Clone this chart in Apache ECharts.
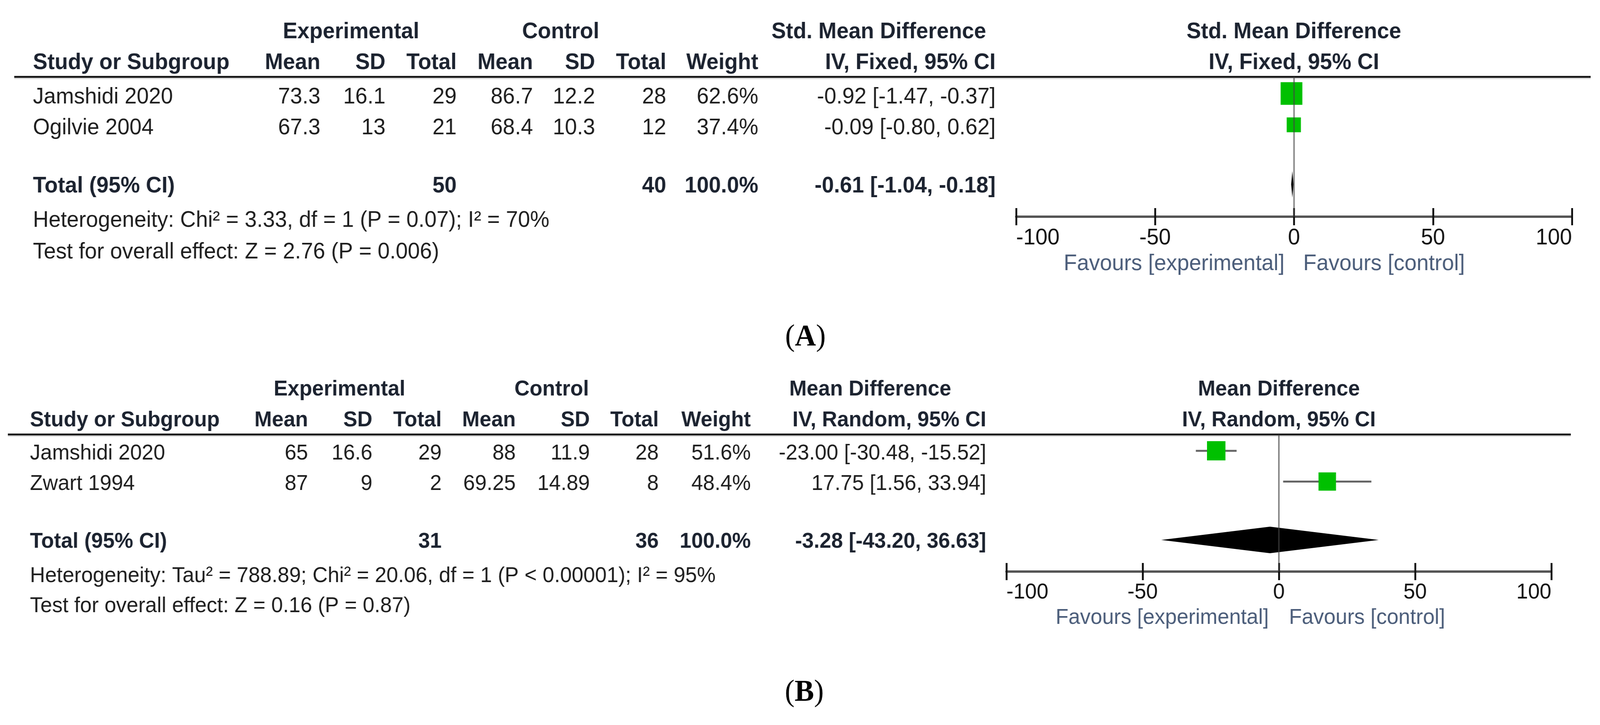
<!DOCTYPE html>
<html>
<head>
<meta charset="utf-8">
<script src="https://cdn.jsdelivr.net/npm/echarts@6/dist/echarts.min.js"></script>
<style>
  html, body { margin: 0; padding: 0; background: #fff; overflow: hidden; }
  #main { width: 4275px; height: 1857px; transform-origin: 0 0; }
</style>
</head>
<body>
<div id="main"></div>
<script>
// ---- panel A : Std. Mean Difference, IV fixed ----
var studiesA = ['Jamshidi 2020', 'Ogilvie 2004'];
var expMeanA = [73.3, 67.3];
var expSdA = [16.1, 13];
var expNA = [29, 21];
var ctlMeanA = [86.7, 68.4];
var ctlSdA = [12.2, 10.3];
var ctlNA = [28, 12];
var weightA = [62.6, 37.4];
var estA = [-0.92, -0.09];
var loA = [-1.47, -0.80];
var hiA = [-0.37, 0.62];
var totalNA = [50, 40];
var totalEffA = [-0.61, -1.04, -0.18];
var hetA = 'Heterogeneity: Chi² = 3.33, df = 1 (P = 0.07); I² = 70%';
var testA = 'Test for overall effect: Z = 2.76 (P = 0.006)';

// ---- panel B : Mean Difference, IV random ----
var studiesB = ['Jamshidi 2020', 'Zwart 1994'];
var expMeanB = [65, 87];
var expSdB = [16.6, 9];
var expNB = [29, 2];
var ctlMeanB = [88, 69.25];
var ctlSdB = [11.9, 14.89];
var ctlNB = [28, 8];
var weightB = [51.6, 48.4];
var estB = [-23.00, 17.75];
var loB = [-30.48, 1.56];
var hiB = [-15.52, 33.94];
var totalNB = [31, 36];
var totalEffB = [-3.28, -43.20, 36.63];
var hetB = 'Heterogeneity: Tau² = 788.89; Chi² = 20.06, df = 1 (P < 0.00001); I² = 95%';
var testB = 'Test for overall effect: Z = 0.16 (P = 0.87)';

var axisMin = -100, axisMax = 100, axisStep = 50;

var FONT = '"Liberation Sans", Arial, sans-serif';
var SERIF = '"Liberation Serif", "Times New Roman", serif';
var HEAD = '#1c2330';
var Y_MIN = 0.47, Y_MAX = 4.93, TOTAL_ROW = 3.9;

// the window may be narrower than the figure: squeeze the whole canvas to fit
var el = document.getElementById('main');
var sx = Math.min(1, window.innerWidth / 4275), sy = Math.min(1, window.innerHeight / 1857);
el.style.transform = 'scale(' + sx + ',' + sy + ')';

function eff(e, l, h) {
    return e.toFixed(2) + ' [' + l.toFixed(2) + ', ' + h.toFixed(2) + ']';
}

function txt(x, y, s, size, opt) {
    opt = opt || {};
    return {
        type: 'text', x: x, y: y, silent: true,
        style: {
            text: s,
            fill: opt.color || '#1e1e1e',
            font: (opt.bold ? 'bold ' : '') + size + 'px ' + FONT,
            textAlign: opt.align || 'left',
            textVerticalAlign: 'middle'
        }
    };
}

// table text + rules for one panel
function panelGraphics(d, L) {
    var g = [];
    var s = L.size;
    var bold = function (al) { return {bold: true, color: HEAD, align: al || 'left'}; };
    g.push(txt(L.expC, L.yH1, 'Experimental', s, bold('center')));
    g.push(txt(L.ctlC, L.yH1, 'Control', s, bold('center')));
    g.push(txt(L.effC, L.yH1, d.effTitle, s, bold('center')));
    g.push(txt(L.left, L.yH2, 'Study or Subgroup', s, bold()));
    var heads = ['Mean', 'SD', 'Total', 'Mean', 'SD', 'Total', 'Weight', d.method];
    heads.forEach(function (h, i) {
        g.push(txt(L.cols[i], L.yH2, h, s, bold('right')));
    });
    // plot headings
    g.push(txt(L.plotC, L.yH1, d.effTitle, s, bold('center')));
    g.push(txt(L.plotC, L.yH2, d.method, s, bold('center')));
    // header rule
    g.push({type: 'line', silent: true, shape: {x1: L.lineX0, y1: L.lineY, x2: L.lineX1, y2: L.lineY},
            style: {stroke: '#111', lineWidth: 5}});
    g.push({type: 'line', silent: true, shape: {x1: L.lineX0, y1: L.lineY + 4, x2: L.lineX1, y2: L.lineY + 4},
            style: {stroke: '#d8d8d8', lineWidth: 3}});
    // study rows
    d.studies.forEach(function (st, i) {
        var y = L.rows[i];
        g.push(txt(L.left, y, st, s));
        var cells = [d.expMean[i], d.expSd[i], d.expN[i], d.ctlMean[i], d.ctlSd[i], d.ctlN[i],
                     d.weight[i].toFixed(1) + '%', eff(d.est[i], d.lo[i], d.hi[i])];
        cells.forEach(function (c, j) {
            g.push(txt(L.cols[j], y, String(c), s, {align: 'right'}));
        });
    });
    // total row
    g.push(txt(L.left, L.yTot, 'Total (95% CI)', s, bold()));
    g.push(txt(L.cols[2], L.yTot, String(d.totalN[0]), s, bold('right')));
    g.push(txt(L.cols[5], L.yTot, String(d.totalN[1]), s, bold('right')));
    g.push(txt(L.cols[6], L.yTot, '100.0%', s, bold('right')));
    g.push(txt(L.cols[7], L.yTot, eff(d.totalEff[0], d.totalEff[1], d.totalEff[2]), s, bold('right')));
    g.push(txt(L.left, L.yHet, d.het, s));
    g.push(txt(L.left, L.yTest, d.test, s));
    // favours
    g.push(txt(L.plotC - L.favGap, L.favY, 'Favours [experimental]', s, {color: '#4b5d7a', align: 'right'}));
    g.push(txt(L.plotC + L.favGap, L.favY, 'Favours [control]', s, {color: '#4b5d7a', align: 'left'}));
    // panel letter
    g.push({
        type: 'text', x: L.labelX, y: L.labelY, silent: true,
        style: {
            text: '({b|' + L.letter + '})',
            rich: {b: {fontWeight: 'bold', fontSize: 78, fontFamily: SERIF, fill: '#000'}},
            font: '78px ' + SERIF, fill: '#000',
            textAlign: 'center', textVerticalAlign: 'middle'
        }
    });
    return g;
}

var dataA = {studies: studiesA, expMean: expMeanA, expSd: expSdA, expN: expNA, ctlMean: ctlMeanA,
             ctlSd: ctlSdA, ctlN: ctlNA, weight: weightA, est: estA, lo: loA, hi: hiA,
             totalN: totalNA, totalEff: totalEffA, het: hetA, test: testA,
             effTitle: 'Std. Mean Difference', method: 'IV, Fixed, 95% CI'};
var dataB = {studies: studiesB, expMean: expMeanB, expSd: expSdB, expN: expNB, ctlMean: ctlMeanB,
             ctlSd: ctlSdB, ctlN: ctlNB, weight: weightB, est: estB, lo: loB, hi: hiB,
             totalN: totalNB, totalEff: totalEffB, het: hetB, test: testB,
             effTitle: 'Mean Difference', method: 'IV, Random, 95% CI'};

var layA = {left: 88, cols: [856, 1030, 1220, 1424, 1590, 1780, 2026, 2660], size: 58,
            yH1: 82, yH2: 161, rows: [249, 328], yTot: 477, yHet: 565, yTest: 646,
            expC: 938, ctlC: 1498, effC: 2348, lineY: 197, lineX0: 38, lineX1: 4250,
            plotC: 3457, favY: 676, favGap: 25, labelX: 2152, labelY: 865, letter: 'A'};
var layB = {left: 80, cols: [823, 995, 1180, 1378, 1576, 1760, 2006, 2635], size: 56,
            yH1: 998, yH2: 1077, rows: [1162, 1240], yTot: 1388, yHet: 1476, yTest: 1553,
            expC: 907, ctlC: 1474, effC: 2325, lineY: 1113, lineX0: 21, lineX1: 4197,
            plotC: 3417, favY: 1583, favGap: 27, labelX: 2149, labelY: 1775, letter: 'B'};

// two stacked x axes per grid: one with outward ticks + labels, one with inward ticks
function xAxes(grid, size) {
    return [{
        type: 'value', gridIndex: grid, min: axisMin, max: axisMax, interval: axisStep, position: 'bottom',
        axisLine: {show: true, lineStyle: {color: '#555', width: 6}},
        axisTick: {show: true, length: 22, lineStyle: {color: '#111', width: 5}},
        splitLine: {show: false},
        axisLabel: {show: true, fontSize: size, fontFamily: FONT, color: '#111', margin: 26,
                    showMinLabel: true, showMaxLabel: true, alignMinLabel: 'left', alignMaxLabel: 'right'}
    }, {
        type: 'value', gridIndex: grid, min: axisMin, max: axisMax, interval: axisStep, position: 'bottom',
        offset: 0,
        axisLine: {show: false},
        axisTick: {show: true, inside: true, length: 22, lineStyle: {color: '#111', width: 5}},
        splitLine: {show: false},
        axisLabel: {show: false}
    }];
}

function yAxis(grid) {
    return {type: 'value', gridIndex: grid, min: Y_MIN, max: Y_MAX, inverse: true, show: false};
}

function panelSeries(d, xi, yi) {
    var ci = d.studies.map(function (s, i) { return [d.lo[i], d.hi[i], i + 1]; });
    var pts = d.studies.map(function (s, i) { return [d.est[i], i + 1, d.weight[i]]; });
    return [{
        type: 'custom', xAxisIndex: xi, yAxisIndex: yi, z: 2, silent: true,
        data: ci,
        renderItem: function (params, api) {
            var a = api.coord([api.value(0), api.value(2)]);
            var b = api.coord([api.value(1), api.value(2)]);
            return {type: 'line', shape: {x1: a[0], y1: a[1], x2: b[0], y2: b[1]},
                    style: {stroke: '#666', lineWidth: 5}};
        }
    }, {
        type: 'scatter', xAxisIndex: xi, yAxisIndex: yi, z: 3, silent: true,
        symbol: 'rect',
        symbolSize: function (v) { return 8 + 0.8 * v[2]; },
        itemStyle: {color: '#00c000', opacity: 1},
        data: pts
    }, {
        type: 'custom', xAxisIndex: xi, yAxisIndex: yi, z: 3, silent: true,
        data: [[d.totalEff[0], d.totalEff[1], d.totalEff[2], TOTAL_ROW]],
        renderItem: function (params, api) {
            var c = api.coord([api.value(0), api.value(3)]);
            var l = api.coord([api.value(1), api.value(3)]);
            var r = api.coord([api.value(2), api.value(3)]);
            return {type: 'polygon',
                    shape: {points: [[l[0], c[1]], [c[0], c[1] - 34], [r[0], c[1]], [c[0], c[1] + 34]]},
                    style: {fill: '#000'}};
        }
    }, {
        type: 'custom', xAxisIndex: xi, yAxisIndex: yi, z: 4, silent: true,
        data: [[0]],
        renderItem: function (params, api) {
            var a = api.coord([api.value(0), Y_MIN]);
            var b = api.coord([api.value(0), Y_MAX]);
            return {type: 'line', shape: {x1: a[0], y1: a[1], x2: b[0], y2: b[1]},
                    style: {stroke: '#444', opacity: 0.65, lineWidth: 4}};
        }
    }];
}

var chart = echarts.init(el, null, {width: 4275, height: 1857});
var option = {
    animation: false,
    backgroundColor: '#fff',
    grid: [
        {left: 2715, top: 197, width: 1485, height: 358},
        {left: 2689, top: 1113, width: 1456, height: 351}
    ],
    xAxis: xAxes(0, 58).concat(xAxes(1, 56)),
    yAxis: [yAxis(0), yAxis(1)],
    series: panelSeries(dataA, 0, 0).concat(panelSeries(dataB, 2, 1)),
    graphic: panelGraphics(dataA, layA).concat(panelGraphics(dataB, layB))
};
chart.setOption(option);
</script>
</body>
</html>
